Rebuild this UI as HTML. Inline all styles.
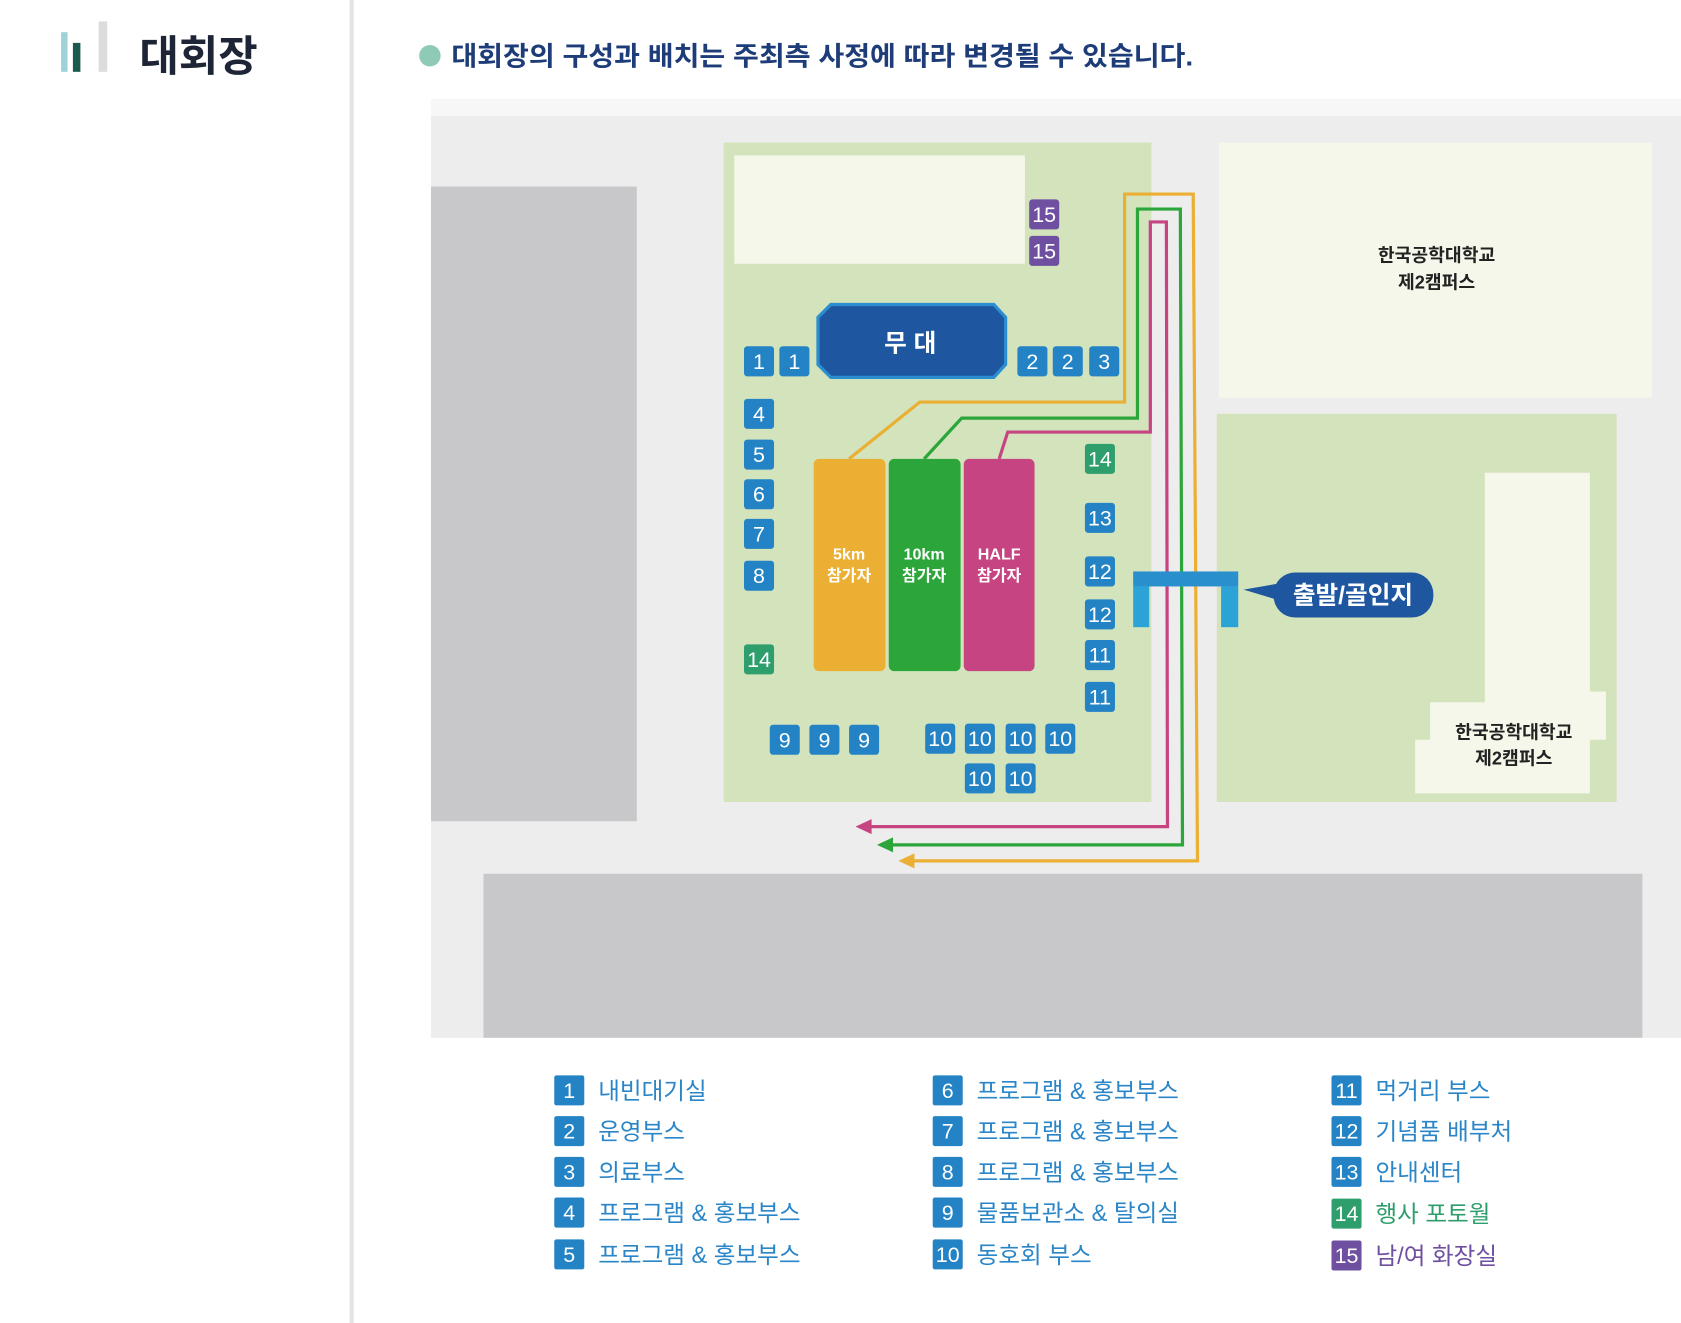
<!DOCTYPE html>
<html><head><meta charset="utf-8"><style>
html,body{margin:0;padding:0;background:#fff}
svg{display:block}
text{font-family:"Liberation Sans","Noto Sans CJK KR",sans-serif}
</style></head><body>
<svg width="1681" height="1323" viewBox="0 0 1568 1234" preserveAspectRatio="none" xmlns="http://www.w3.org/2000/svg">
<rect x="0" y="0" width="1568" height="1234" fill="#fff"/>
<rect x="326" y="0" width="4" height="1234" fill="#e4e4e4"/>
<!-- logo -->
<rect x="57" y="30" width="6" height="37" fill="#9fd2d6"/>
<rect x="68" y="40" width="7" height="27" fill="#1c5a4d"/>
<rect x="92" y="20" width="8" height="47" fill="#dcdcdc"/>
<text x="130" y="66" font-size="40" font-weight="bold" fill="#1d2536" font-family="'Noto Serif CJK SC',serif">대회장</text>
<!-- header -->
<circle cx="401" cy="52" r="10" fill="#8ecab5"/>
<text x="421" y="61" font-size="25" font-weight="bold" fill="#1d3c78" textLength="692" lengthAdjust="spacingAndGlyphs">대회장의 구성과 배치는 주최측 사정에 따라 변경될 수 있습니다.</text>
<rect x="402" y="92" width="1166" height="16" fill="#f7f7f7"/>
<!-- map -->
<rect x="402" y="108" width="1166" height="860" fill="#ededed"/>
<rect x="402" y="174" width="192" height="592" fill="#c8c8ca"/>
<rect x="451" y="815" width="1081" height="153" fill="#c8c8ca"/>
<rect x="675" y="133" width="399" height="615" fill="#d3e3bc"/>
<rect x="685" y="145" width="271" height="101" fill="#f5f7ea"/>
<rect x="1137" y="133" width="404" height="238" fill="#f5f7ea"/>
<text x="1340" y="244" font-size="17" font-weight="bold" fill="#222" text-anchor="middle">한국공학대학교</text>
<text x="1340" y="269" font-size="17" font-weight="bold" fill="#222" text-anchor="middle">제2캠퍼스</text>
<rect x="1135" y="386" width="373" height="362" fill="#d3e3bc"/>
<path d="M1385 441H1483V645H1498V690H1483V740H1320V690H1334V655H1385Z" fill="#f5f7ea"/>
<text x="1412" y="689" font-size="17" font-weight="bold" fill="#222" text-anchor="middle">한국공학대학교</text>
<text x="1412" y="713" font-size="17" font-weight="bold" fill="#222" text-anchor="middle">제2캠퍼스</text>
<!-- stage -->
<path d="M775 284H927L938 296V340L927 352H775L763 340V296Z" fill="#1e57a0" stroke="#2b8ed0" stroke-width="3"/>
<text x="849" y="328" font-size="23" font-weight="bold" fill="#fff" text-anchor="middle">무 대</text>
<!-- routes -->
<g fill="none" stroke-width="3">
<polyline points="792,428 858,375 1049,375 1049,181 1113,181 1117,803 850,803" stroke="#ebaf33"/>
<polyline points="862,428 897,390 1061,390 1061,195 1101,195 1103,788 830,788" stroke="#2ca63a"/>
<polyline points="932,428 940,403 1073,403 1073,207 1088,207 1089,771 810,771" stroke="#c64482"/>
</g>
<path d="M838 803L853 796V810Z" fill="#ebaf33"/>
<path d="M818 788L833 781V795Z" fill="#2ca63a"/>
<path d="M798 771L813 764V778Z" fill="#c64482"/>
<!-- bars -->
<rect x="759" y="428" width="67" height="198" rx="5" fill="#ebaf33"/>
<rect x="829" y="428" width="67" height="198" rx="5" fill="#2ca63a"/>
<rect x="899" y="428" width="66" height="198" rx="5" fill="#c64482"/>
<g font-size="15" font-weight="bold" fill="#fff" text-anchor="middle">
<text x="792" y="522">5km</text><text x="792" y="542">참가자</text>
<text x="862" y="522">10km</text><text x="862" y="542">참가자</text>
<text x="932" y="522">HALF</text><text x="932" y="542">참가자</text>
</g>
<!-- gate -->
<rect x="1057" y="533" width="98" height="14" fill="#2a8fcd"/>
<rect x="1057" y="547" width="15" height="38" fill="#2ba3d6"/>
<rect x="1139" y="547" width="16" height="38" fill="#2ba3d6"/>
<path d="M1160 550L1200 543V562Z" fill="#1e57a0"/>
<rect x="1188" y="534" width="149" height="42" rx="20" fill="#1e57a0"/>
<text x="1262" y="563" font-size="23" font-weight="bold" fill="#fff" text-anchor="middle">출발/골인지</text>
<!-- booths -->
<g font-size="20" fill="#fff" text-anchor="middle">
<g fill="#2383c5">
<rect x="694" y="323" width="28" height="28" rx="3"/><rect x="727" y="323" width="28" height="28" rx="3"/>
<rect x="949" y="323" width="28" height="28" rx="3"/><rect x="982" y="323" width="28" height="28" rx="3"/><rect x="1016" y="323" width="28" height="28" rx="3"/>
<rect x="694" y="372" width="28" height="28" rx="3"/><rect x="694" y="410" width="28" height="28" rx="3"/><rect x="694" y="447" width="28" height="28" rx="3"/><rect x="694" y="484" width="28" height="28" rx="3"/><rect x="694" y="523" width="28" height="28" rx="3"/>
<rect x="1012" y="469" width="28" height="28" rx="3"/><rect x="1012" y="519" width="28" height="28" rx="3"/><rect x="1012" y="559" width="28" height="28" rx="3"/><rect x="1012" y="597" width="28" height="28" rx="3"/><rect x="1012" y="636" width="28" height="28" rx="3"/>
<rect x="718" y="676" width="28" height="28" rx="3"/><rect x="755" y="676" width="28" height="28" rx="3"/><rect x="792" y="676" width="28" height="28" rx="3"/>
<rect x="863" y="675" width="28" height="28" rx="3"/><rect x="900" y="675" width="28" height="28" rx="3"/><rect x="938" y="675" width="28" height="28" rx="3"/><rect x="975" y="675" width="28" height="28" rx="3"/>
<rect x="900" y="712" width="28" height="28" rx="3"/><rect x="938" y="712" width="28" height="28" rx="3"/>
</g>
<g fill="#2e9e6c"><rect x="694" y="601" width="28" height="28" rx="3"/><rect x="1012" y="414" width="28" height="28" rx="3"/></g>
<g fill="#6e4fa0"><rect x="960" y="186" width="28" height="28" rx="3"/><rect x="960" y="220" width="28" height="28" rx="3"/></g>
<text x="708" y="344">1</text><text x="741" y="344">1</text><text x="963" y="344">2</text><text x="996" y="344">2</text><text x="1030" y="344">3</text>
<text x="708" y="393">4</text><text x="708" y="431">5</text><text x="708" y="468">6</text><text x="708" y="505">7</text><text x="708" y="544">8</text><text x="708" y="622">14</text>
<text x="1026" y="435">14</text><text x="1026" y="490">13</text><text x="1026" y="540">12</text><text x="1026" y="580">12</text><text x="1026" y="618">11</text><text x="1026" y="657">11</text>
<text x="732" y="697">9</text><text x="769" y="697">9</text><text x="806" y="697">9</text>
<text x="877" y="696">10</text><text x="914" y="696">10</text><text x="952" y="696">10</text><text x="989" y="696">10</text>
<text x="914" y="733">10</text><text x="952" y="733">10</text>
<text x="974" y="207">15</text><text x="974" y="241">15</text>
</g>
<!-- legend -->
<g font-size="20" text-anchor="middle" fill="#fff">
<g fill="#2383c5">
<rect x="517" y="1003" width="28" height="28" rx="2"/><rect x="517" y="1041" width="28" height="28" rx="2"/><rect x="517" y="1079" width="28" height="28" rx="2"/><rect x="517" y="1117" width="28" height="28" rx="2"/><rect x="517" y="1156" width="28" height="28" rx="2"/>
<rect x="870" y="1003" width="28" height="28" rx="2"/><rect x="870" y="1041" width="28" height="28" rx="2"/><rect x="870" y="1079" width="28" height="28" rx="2"/><rect x="870" y="1117" width="28" height="28" rx="2"/><rect x="870" y="1156" width="28" height="28" rx="2"/>
<rect x="1242" y="1003" width="28" height="28" rx="2"/><rect x="1242" y="1041" width="28" height="28" rx="2"/><rect x="1242" y="1079" width="28" height="28" rx="2"/>
</g>
<rect x="1242" y="1118" width="28" height="28" rx="2" fill="#2e9e6c"/>
<rect x="1242" y="1157" width="28" height="28" rx="2" fill="#6e4fa0"/>
<text x="531" y="1024">1</text><text x="531" y="1062">2</text><text x="531" y="1100">3</text><text x="531" y="1138">4</text><text x="531" y="1177">5</text>
<text x="884" y="1024">6</text><text x="884" y="1062">7</text><text x="884" y="1100">8</text><text x="884" y="1138">9</text><text x="884" y="1177">10</text>
<text x="1256" y="1024">11</text><text x="1256" y="1062">12</text><text x="1256" y="1100">13</text><text x="1256" y="1139">14</text><text x="1256" y="1178">15</text>
</g>
<g font-size="22" fill="#2b86c8">
<text x="558" y="1025">내빈대기실</text><text x="558" y="1063">운영부스</text><text x="558" y="1101">의료부스</text><text x="558" y="1139">프로그램 &amp; 홍보부스</text><text x="558" y="1178">프로그램 &amp; 홍보부스</text>
<text x="911" y="1025">프로그램 &amp; 홍보부스</text><text x="911" y="1063">프로그램 &amp; 홍보부스</text><text x="911" y="1101">프로그램 &amp; 홍보부스</text><text x="911" y="1139">물품보관소 &amp; 탈의실</text><text x="911" y="1178">동호회 부스</text>
<text x="1283" y="1025">먹거리 부스</text><text x="1283" y="1063">기념품 배부처</text><text x="1283" y="1101">안내센터</text>
<text x="1283" y="1140" fill="#2e9e6c">행사 포토월</text><text x="1283" y="1179" fill="#6e4fa0">남/여 화장실</text>
</g>
</svg>
</body></html>
